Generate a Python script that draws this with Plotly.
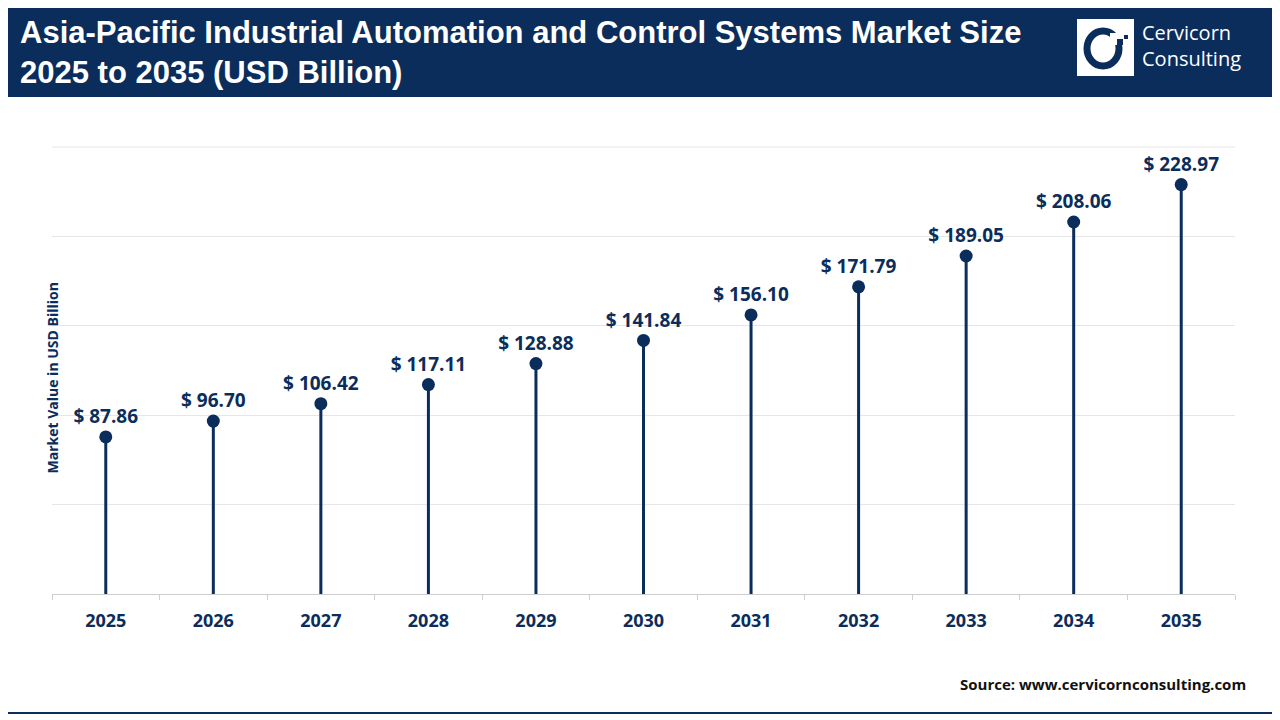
import plotly.graph_objects as go

years = ["2025", "2026", "2027", "2028", "2029", "2030", "2031", "2032", "2033", "2034", "2035"]
values = [87.86, 96.70, 106.42, 117.11, 128.88, 141.84, 156.10, 171.79, 189.05, 208.06, 228.97]
labels = ["$ %.2f" % v for v in values]

navy = "#0b2d5b"

# screen pixel -> paper coords (plot area on screen: x 52..1235, y 147..594)
def px(sx):
    return (sx - 52) / 1183

def py(sy):
    return (594 - sy) / 447

fig = go.Figure()
for y, v in zip(years, values):
    fig.add_trace(go.Scatter(x=[y, y], y=[0, v], mode="lines",
                             line=dict(color=navy, width=3), showlegend=False, hoverinfo="skip"))
fig.add_trace(go.Scatter(x=years, y=values, mode="markers+text", text=labels,
                         texttemplate="<b>%{text}</b>", textposition="top center",
                         textfont=dict(family="Open Sans", size=19, color=navy),
                         marker=dict(color=navy, size=13), showlegend=False, cliponaxis=False))

fig.update_layout(
    width=1280, height=720, paper_bgcolor="white", plot_bgcolor="white",
    margin=dict(l=44, r=53, t=139, b=134),
    xaxis=dict(type="category", range=[-0.5, 10.5], showgrid=False, showline=True,
               linecolor="#cfcfcf", ticks="outside", ticklen=5, tickcolor="#cfcfcf",
               tickson="boundaries", ticklabelstandoff=10,
               tickfont=dict(family="Open Sans", size=18, color=navy),
               tickprefix="<b>", ticksuffix="</b>"),
    yaxis=dict(range=[0, 250], dtick=50, showticklabels=False, gridcolor="#e6e6e6",
               zeroline=False),
    shapes=[
        dict(type="rect", xref="paper", yref="paper", x0=px(0), x1=px(1280),
             y0=py(96), y1=py(0), fillcolor=navy, line_width=0, layer="below"),
        dict(type="rect", xref="paper", yref="paper", x0=px(2), x1=px(1275),
             y0=py(713), y1=py(96), line=dict(color=navy, width=2)),
        dict(type="line", xref="paper", yref="paper", x0=0, x1=1, y0=1, y1=1,
             line=dict(color="#e6e6e6", width=1), layer="below"),
        dict(type="rect", xref="paper", yref="paper", x0=px(1077), x1=px(1134),
             y0=py(76), y1=py(19), fillcolor="white", line_width=0),
        dict(type="circle", xref="paper", yref="paper", x0=px(1087), x1=px(1119),
             y0=py(66), y1=py(31), line=dict(color=navy, width=7)),
        dict(type="rect", xref="paper", yref="paper", x0=px(1110), x1=px(1127),
             y0=py(45), y1=py(33), fillcolor="white", line_width=0),
        dict(type="rect", xref="paper", yref="paper", x0=px(1117), x1=px(1123),
             y0=py(45), y1=py(39), fillcolor=navy, line_width=0),
        dict(type="rect", xref="paper", yref="paper", x0=px(1124), x1=px(1128),
             y0=py(39), y1=py(35), fillcolor=navy, line_width=0),
    ],
    annotations=[
        dict(text="<b>Asia-Pacific Industrial Automation and Control Systems Market Size<br>2025 to 2035 (USD Billion)</b>",
             xref="paper", yref="paper", x=px(18), y=py(53), xanchor="left", yanchor="middle",
             align="left", showarrow=False, font=dict(family="Liberation Sans", size=31, color="white")),
        dict(text="Cervicorn<br>Consulting", xref="paper", yref="paper", x=px(1140),
             y=py(46), xanchor="left", yanchor="middle", align="left", showarrow=False,
             font=dict(family="Open Sans", size=20, color="white")),
        dict(text="<b>Market Value in USD Billion</b>", xref="paper", yref="paper", x=px(40), y=py(378),
             textangle=-90, showarrow=False, font=dict(family="Open Sans", size=14, color=navy)),
        dict(text="<b>Source: www.cervicornconsulting.com</b>", xref="paper", yref="paper",
             x=px(1248), y=py(684), xanchor="right", yanchor="middle", showarrow=False,
             font=dict(family="Open Sans", size=15, color="#111")),
    ],
)
fig.write_html("out.html")
